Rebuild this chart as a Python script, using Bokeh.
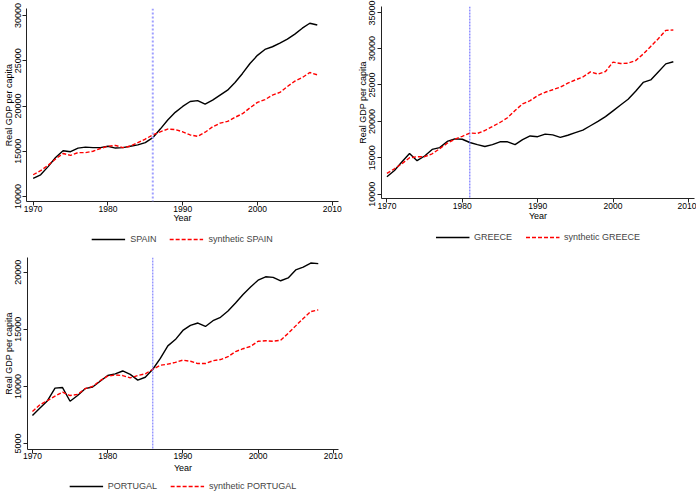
from bokeh.plotting import figure
from bokeh.models import Range1d, Span, Legend, LegendItem
from bokeh.layouts import column, row
from bokeh.embed import file_html
from bokeh.resources import INLINE

years = list(range(1970, 2009))

spain = [12000, 12400, 13300, 14300, 15050, 14950, 15350, 15450, 15400, 15400,
         15550, 15350, 15400, 15550, 15700, 15950, 16500, 17450, 18450, 19300,
         19950, 20500, 20600, 20200, 20650, 21200, 21750, 22600, 23600, 24700,
         25600, 26250, 26550, 26950, 27400, 27950, 28600, 29150, 28950]
synth_spain = [12400, 12850, 13450, 14150, 14750, 14550, 14850, 14850, 15000, 15300,
               15550, 15650, 15400, 15550, 15950, 16350, 16800, 17150, 17450, 17400,
               17150, 16800, 16650, 17100, 17700, 18100, 18300, 18750, 19150, 19800,
               20400, 20700, 21200, 21500, 22150, 22750, 23150, 23700, 23450]

greece = [12400, 13250, 14450, 15600, 14600, 15250, 16150, 16400, 17250, 17600,
          17550, 17100, 16800, 16550, 16800, 17200, 17200, 16800, 17500, 18000,
          17900, 18250, 18150, 17800, 18100, 18450, 18800, 19400, 20000, 20650,
          21450, 22250, 23050, 24150, 25350, 25700, 26800, 27900, 28200]
synth_greece = [12850, 13500, 14200, 15000, 15150, 15150, 15550, 16250, 17000, 17550,
                17950, 18400, 18350, 18750, 19300, 19850, 20500, 21500, 22400, 22850,
                23550, 24000, 24350, 24700, 25250, 25700, 26100, 26800, 26500, 26850,
                28150, 27950, 28000, 28350, 29250, 30300, 31350, 32500, 32550]

portugal = [7450, 8100, 8750, 9850, 9900, 8700, 9200, 9800, 9950, 10450,
            10950, 11100, 11350, 11050, 10550, 10800, 11500, 12450, 13550, 14100,
            14900, 15350, 15550, 15250, 15750, 16050, 16600, 17300, 18050, 18700,
            19300, 19600, 19550, 19250, 19500, 20200, 20450, 20800, 20750]
synth_portugal = [7800, 8400, 8750, 9150, 9500, 9200, 9300, 9800, 10000, 10500,
                  10900, 11000, 10950, 10750, 10950, 11100, 11500, 11850, 11950, 12100,
                  12300, 12200, 12000, 12000, 12250, 12350, 12600, 13050, 13300, 13500,
                  13950, 14000, 13950, 14050, 14650, 15300, 15950, 16550, 16700]

x_ticks = [1970, 1980, 1990, 2000, 2010]
spain_yticks = [10000, 15000, 20000, 25000, 30000]
greece_yticks = [10000, 15000, 20000, 25000, 30000, 35000]
portugal_yticks = [5000, 10000, 15000, 20000]

FONT = "Liberation Sans"


def panel(treat, actual, synth, xr, yr, yticks, w, h, borders,
          vcol, vwidth, vdash, y_so, y_lab_so, x_so, x_lab_so):
    bl, br, bt, bb = borders
    p = figure(width=w, height=h, x_range=Range1d(*xr), y_range=Range1d(*yr),
               output_backend="svg", toolbar_location=None,
               min_border_left=bl, min_border_right=br,
               min_border_top=bt, min_border_bottom=bb)
    p.outline_line_color = None
    p.grid.visible = False

    for ax in (p.xaxis[0], p.yaxis[0]):
        ax.axis_line_color = "#222222"
        ax.major_tick_line_color = "#222222"
        ax.major_tick_out = 4
        ax.major_tick_in = 0
        ax.minor_tick_out = 0
        ax.minor_tick_in = 0
        ax.major_label_text_font = FONT
        ax.major_label_text_color = "black"
        ax.axis_label_text_font = FONT
        ax.axis_label_text_font_size = "9px"
        ax.axis_label_text_font_style = "normal"
        ax.axis_label_text_color = "black"

    p.xaxis.ticker = x_ticks
    p.xaxis.axis_label = "Year"
    p.xaxis.major_label_text_font_size = "8.5px"
    p.xaxis.major_label_standoff = x_so
    p.xaxis.axis_label_standoff = x_lab_so

    p.yaxis.ticker = yticks
    p.yaxis.axis_label = "Real GDP per capita"
    p.yaxis.major_label_text_font_size = "9px"
    p.yaxis.major_label_orientation = "vertical"
    p.yaxis.major_label_standoff = y_so
    p.yaxis.axis_label_standoff = y_lab_so

    p.line(years, actual, line_color="black", line_width=1.4)
    p.line(years, synth, line_color="#ff0000", line_width=1.4, line_dash="4 2")
    p.add_layout(Span(location=treat, dimension="height", line_color=vcol,
                      line_width=vwidth, line_dash=vdash))
    return p


def legend_strip(name, actual, synth, w, h, bl, br):
    f = figure(width=w, height=h, output_backend="svg", toolbar_location=None,
               x_axis_location=None, y_axis_location=None,
               min_border_left=bl, min_border_right=br,
               min_border_top=0, min_border_bottom=0)
    f.outline_line_color = None
    f.grid.visible = False
    r1 = f.line(years, actual, line_color="black", line_width=1.4, visible=False)
    r2 = f.line(years, synth, line_color="#ff0000", line_width=1.4,
                line_dash="4 2", visible=False)
    leg = Legend(items=[LegendItem(label=name, renderers=[r1]),
                        LegendItem(label="synthetic " + name, renderers=[r2])],
                 location="center", orientation="horizontal",
                 padding=0, margin=0, spacing=13, label_standoff=5,
                 glyph_width=34, glyph_height=10, label_height=10,
                 label_text_font=FONT, label_text_font_size="9px",
                 background_fill_alpha=0, border_line_alpha=0)
    f.add_layout(leg)
    return f


# Spain: frame x 25..338, y 8..201
p1 = panel(1986, spain, synth_spain, (1969.11, 2010.84), (9444, 30778), spain_yticks,
           348, 233, (25, 10, 8, 32), "#a0a0ff", 2, "2 2", 1, -1, 0, -2)
l1 = legend_strip("SPAIN", spain, synth_spain, 348, 12, 25, 10)

# Greece: frame x 381..694, y 6..198
p2 = panel(1981, greece, synth_greece, (1969.28, 2010.81), (9409, 35783), greece_yticks,
           348, 229, (33, 2, 6, 31), "#5b5bff", 1, "2 1", 2, -1, 0, -1)
l2 = legend_strip("GREECE", greece, synth_greece, 348, 16, 33, 2)

# Portugal: frame x 27..338, y 257..449 (figure starts at 245)
p3 = panel(1986, portugal, synth_portugal, (1969.34, 2010.69), (4475, 21287),
           portugal_yticks, 348, 235, (27, 10, 12, 31), "#6a6aff", 1, "2 1", 2, -1, -1, 1)
l3 = legend_strip("PORTUGAL", portugal, synth_portugal, 348, 12, 27, 10)

layout = column(row(column(p1, l1), column(p2, l2)), column(p3, l3))
open("out.html", "w").write(file_html(layout, INLINE))
